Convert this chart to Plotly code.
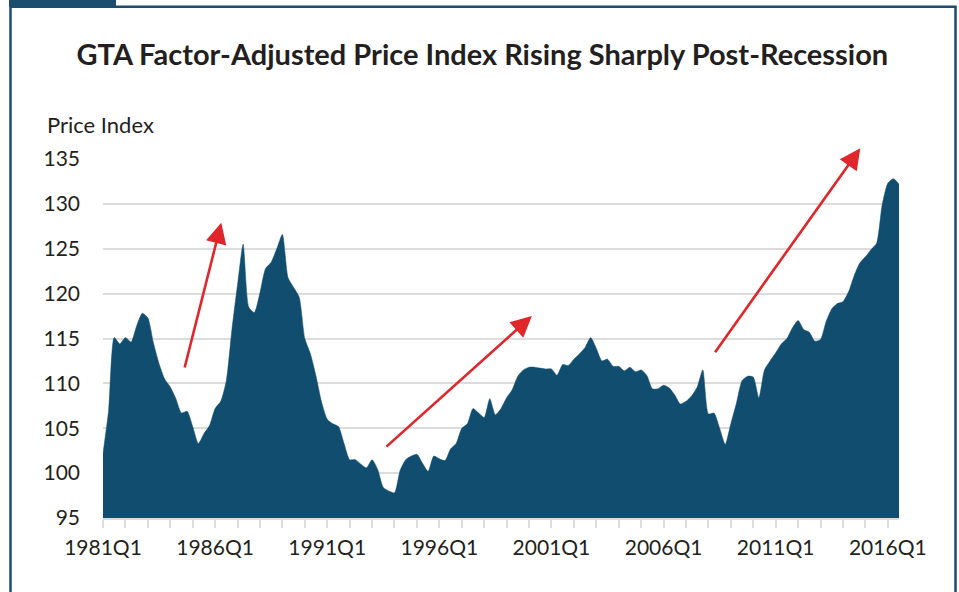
import plotly.graph_objects as go

# quarterly index values, 1981Q1 .. 2016Q3
price_index = [
    102.2, 107.0, 115.1, 114.4, 115.1, 114.6, 116.4, 117.8, 117.3, 114.5,
    112.2, 110.5, 109.6, 108.3, 106.7, 106.9, 105.2, 103.3, 104.4, 105.3,
    107.2, 108.0, 110.3, 116.0, 121.0, 125.5, 118.5, 117.9, 120.1, 122.8,
    123.5, 125.0, 126.6, 121.8, 120.7, 119.6, 115.0, 113.3, 110.8, 107.9,
    106.0, 105.5, 105.2, 103.3, 101.5, 101.5, 101.0, 100.6, 101.5, 100.4,
    98.4, 98.0, 97.8, 100.3, 101.5, 101.9, 102.1, 101.1, 100.2, 101.9,
    101.6, 101.4, 102.7, 103.3, 105.0, 105.5, 107.2, 106.7, 106.2, 108.3,
    106.5, 107.2, 108.4, 109.3, 110.8, 111.5, 111.8, 111.8, 111.7, 111.6,
    111.6, 110.9, 112.1, 112.0, 112.7, 113.3, 114.0, 115.1, 113.9, 112.5,
    112.7, 111.9, 111.9, 111.4, 111.8, 111.3, 111.5, 110.9, 109.4, 109.4,
    109.8, 109.5, 108.7, 107.7, 108.0, 108.6, 109.6, 111.5, 106.6, 106.7,
    105.0, 103.2, 105.5, 107.8, 110.3, 110.8, 110.7, 108.4, 111.5, 112.5,
    113.4, 114.4, 115.0, 116.2, 117.0, 116.0, 115.7, 114.7, 114.9, 116.9,
    118.3, 118.9, 119.1, 120.2, 122.0, 123.4, 124.1, 124.9, 125.6, 129.9,
    132.3, 132.8, 132.2,
]
quarters = [1981 + i / 4 for i in range(len(price_index))]

tick_years = [1981, 1986, 1991, 1996, 2001, 2006, 2011, 2016]
tick_labels = [str(y) + 'Q1' for y in tick_years]
y_ticks = [95, 100, 105, 110, 115, 120, 125, 130, 135]

# trend arrows: (tail x, tail y, head x, head y)
arrows = [
    (1984.625, 111.6, 1986.275, 127.9),
    (1993.575, 102.8, 2000.125, 117.5),
    (2008.25, 113.3, 2014.775, 136.2),
]

fill_color = '#114d6e'
frame_color = '#1b4d6e'
text_color = '#231f20'
grid_color = '#dcdcdc'
font_name = 'Lato'

fig = go.Figure()

fig.add_trace(go.Scatter(
    x=quarters, y=price_index, mode='lines', fill='tozeroy',
    fillcolor=fill_color, line=dict(color=fill_color, width=0.5, shape='spline', smoothing=0.6),
    hoverinfo='x+y', showlegend=False))

for tx, ty, hx, hy in arrows:
    fig.add_annotation(
        x=hx, y=hy, ax=tx, ay=ty, xref='x', yref='y', axref='x', ayref='y',
        text='', showarrow=True, arrowhead=2, arrowsize=1.6, arrowwidth=2.6,
        arrowcolor='#e0262a', standoff=0)

# plot area in pixels: left 103, right 899, top 159, bottom 518
L, R, T, B = 103, 899, 159.3, 518.3
def px(x):
    return (x - L) / (R - L)
def py(y):
    return (B - y) / (B - T)

fig.add_annotation(
    x=px(45), y=py(125), xref='paper', yref='paper', xanchor='left', yanchor='middle',
    text='Price Index', showarrow=False, font=dict(family=font_name, size=22, color=text_color))

# outer frame and tab
fig.add_shape(type='rect', xref='paper', yref='paper', x0=px(10.5), x1=px(955.5),
              y0=py(620), y1=py(7), line=dict(color=frame_color, width=2.5), layer='below')
fig.add_shape(type='rect', xref='paper', yref='paper', x0=px(9), x1=px(116),
              y0=py(7), y1=py(-2), line=dict(width=0), fillcolor=frame_color)

fig.update_layout(
    width=959, height=592,
    margin=dict(l=103, r=60, t=159, b=74),
    paper_bgcolor='white', plot_bgcolor='white',
    title=dict(text='<b>GTA Factor-Adjusted Price Index Rising Sharply Post-Recession</b>',
               x=0.503, xanchor='center', xref='container', y=1 - 55 / 592, yanchor='middle',
               font=dict(family=font_name, size=29, color=text_color)),
    font=dict(family=font_name, color=text_color),
    xaxis=dict(
        range=[1981, 2016.5], tickvals=tick_years, ticktext=tick_labels,
        ticks='outside', ticklen=8, tickwidth=1.5, tickcolor=grid_color,
        minor=dict(ticks='outside', dtick=1, tick0=1981, ticklen=8, tickwidth=1.5,
                   tickcolor=grid_color, showgrid=False),
        showgrid=False, zeroline=False, showline=True, linecolor=grid_color, linewidth=1.5,
        tickfont=dict(family=font_name, size=21, color=text_color),
        ticklabelstandoff=2),
    yaxis=dict(
        range=[95, 135], tickvals=y_ticks, showgrid=True, gridcolor=grid_color, gridwidth=1.5,
        zeroline=False, showline=False, ticks='',
        tickfont=dict(family=font_name, size=21, color=text_color),
        ticklabelstandoff=22),
)

fig.write_html('out.html', config={'displayModeBar': False},
               post_script="document.body.style.margin='0px';")
